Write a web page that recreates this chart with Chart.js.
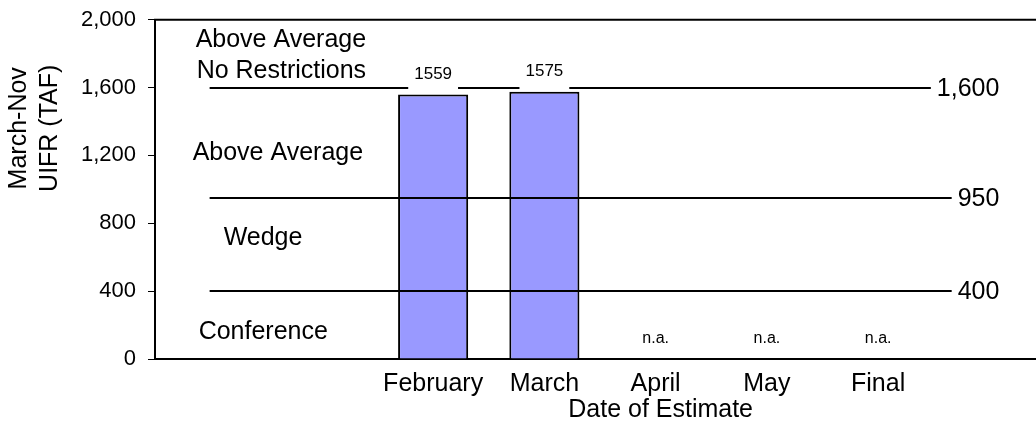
<!DOCTYPE html>
<html>
<head>
<meta charset="utf-8">
<script src="https://cdn.jsdelivr.net/npm/chart.js@4.4.1/dist/chart.umd.min.js"></script>
<style>
  html, body { margin: 0; padding: 0; background: #fff; overflow: hidden; }
  #wrap { width: 1036px; height: 430px; overflow: hidden; position: relative; }
</style>
</head>
<body>
<div id="wrap"><canvas id="chart" width="1046" height="430"></canvas></div>
<script>
// categories - blank slots pad the axis on both sides like the original sheet
const categories = ['', '', 'February', 'March', 'April', 'May', 'Final', ''];
const uifrValues = [null, null, 1559, 1575, null, null, null, null];
const naLabel = 'n.a.';
const naSlots = ['April', 'May', 'Final'];

const yTicks = [0, 400, 800, 1200, 1600, 2000];
const thresholds = [1600, 950, 400];
const thresholdLabels = ['1,600', '950', '400'];

const zoneNames = ['Above Average', 'No Restrictions', 'Above Average', 'Wedge', 'Conference'];
const zoneValues = [1880, 1695, 1215, 715, 160];

const yTitle = ['March-Nov', 'UIFR (TAF)'];
const xTitle = 'Date of Estimate';

const FONT = '"Liberation Sans", Arial, sans-serif';
// left indent (px) of each zone label, relative to the first slot centre
const zoneIndent = [-14, -13, -17, 14, -11];

const overlay = {
    id: 'overlay',
    afterDatasetsDraw(chart) {
        const { ctx, chartArea: a, scales: { x, y } } = chart;
        ctx.save();
        ctx.strokeStyle = '#000';
        ctx.fillStyle = '#000';
        ctx.lineWidth = 2;

        // top frame line
        ctx.beginPath();
        ctx.moveTo(a.left - 1, a.top);
        ctx.lineTo(a.right, a.top);
        ctx.stroke();

        // threshold lines + right-hand labels
        ctx.font = '25px ' + FONT;
        ctx.textBaseline = 'middle';
        ctx.textAlign = 'right';
        const xStart = x.getPixelForValue(0) - 1;
        const xLabel = x.getPixelForValue(7.09);
        thresholds.forEach((v, i) => {
            const py = Math.round(y.getPixelForValue(v));
            const w = ctx.measureText(thresholdLabels[i]).width;
            ctx.beginPath();
            ctx.moveTo(xStart, py);
            ctx.lineTo(xLabel - w - 6, py);
            ctx.stroke();
            ctx.fillText(thresholdLabels[i], xLabel, py + 1);
        });

        // zone names
        ctx.textAlign = 'left';
        zoneNames.forEach((name, i) => {
            ctx.fillText(name, xStart + zoneIndent[i], y.getPixelForValue(zoneValues[i]));
        });

        // value labels on a white box above each bar
        const meta = chart.getDatasetMeta(0);
        ctx.font = '17px ' + FONT;
        ctx.textAlign = 'center';
        ctx.textBaseline = 'alphabetic';
        meta.data.forEach((bar, i) => {
            const v = uifrValues[i];
            if (v === null) return;
            const txt = String(v);
            const w = ctx.measureText(txt).width;
            ctx.fillStyle = '#fff';
            ctx.fillRect(bar.x - w / 2 - 6, bar.y - 32, w + 12, 30);
            ctx.fillStyle = '#000';
            ctx.fillText(txt, bar.x, bar.y - 16);
        });

        // n.a. markers
        ctx.font = '16px ' + FONT;
        ctx.textBaseline = 'middle';
        naSlots.forEach(c => {
            ctx.fillText(naLabel, x.getPixelForValue(categories.indexOf(c)), y.getPixelForValue(120));
        });

        // axis titles
        ctx.font = '25px ' + FONT;
        ctx.fillText(xTitle, x.getPixelForValue(4) + 5, 410);
        ctx.save();
        ctx.translate(0, y.getPixelForValue(1360));
        ctx.rotate(-Math.PI / 2);
        ctx.fillText(yTitle[0], 0, 19);
        ctx.fillText(yTitle[1], 0, 50);
        ctx.restore();

        ctx.restore();
    }
};

new Chart(document.getElementById('chart'), {
    type: 'bar',
    data: {
        labels: categories,
        datasets: [{
            data: uifrValues,
            backgroundColor: '#9999FF',
            borderColor: '#000',
            borderWidth: 2,
            borderSkipped: 'bottom',
            barPercentage: 0.63,
            categoryPercentage: 1
        }]
    },
    options: {
        responsive: false,
        animation: false,
        devicePixelRatio: 1,
        layout: { padding: { top: 18, right: 1, bottom: 0, left: 0 } },
        plugins: {
            legend: { display: false },
            tooltip: { enabled: false }
        },
        scales: {
            x: {
                afterFit: s => { s.height = 71; },
                grid: { display: false, drawTicks: false },
                border: { display: true, color: '#000', width: 2 },
                ticks: {
                    color: '#000',
                    padding: 10,
                    maxRotation: 0,
                    autoSkip: false,
                    font: { family: FONT, size: 25 }
                }
            },
            y: {
                min: 0,
                max: 2000,
                afterFit: s => { s.width = 155; },
                afterBuildTicks: s => { s.ticks = yTicks.map(v => ({ value: v })); },
                grid: {
                    drawOnChartArea: false,
                    color: '#000',
                    tickLength: 7,
                    tickWidth: 1
                },
                border: { display: true, color: '#000', width: 2 },
                ticks: {
                    color: '#000',
                    padding: 12,
                    font: { family: FONT, size: 22, lineHeight: 0.7 },
                    callback: v => v.toLocaleString('en-US')
                }
            }
        }
    },
    plugins: [overlay]
});
</script>
</body>
</html>
